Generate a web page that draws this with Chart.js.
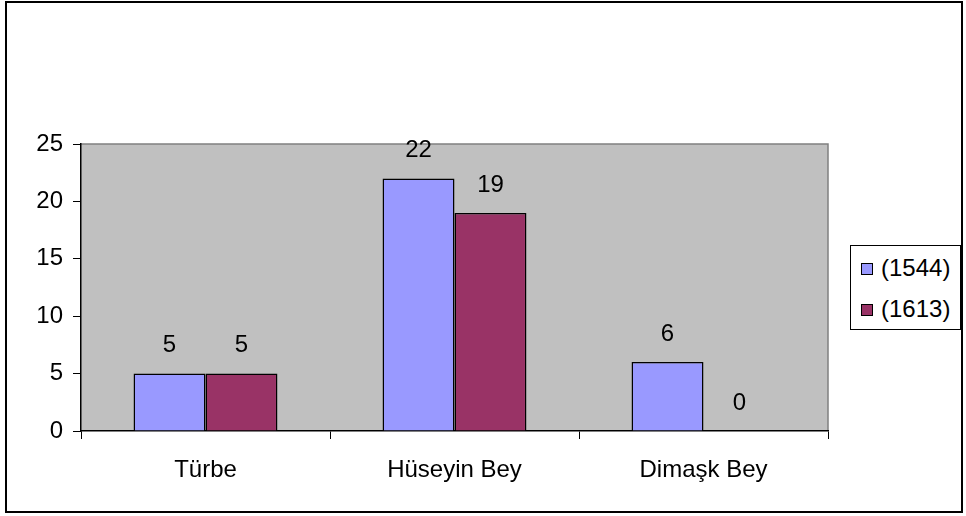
<!DOCTYPE html>
<html lang="tr">
<head>
    <meta charset="UTF-8">
    <title>Türbe / Hüseyin Bey / Dimaşk Bey</title>
    <script src="https://cdn.jsdelivr.net/npm/chart.js"></script>
    <style>
        * {
            margin: 0;
            padding: 0;
            box-sizing: border-box;
        }
        body {
            width: 966px;
            height: 516px;
            background: #fff;
            position: relative;
            overflow: hidden;
            font-family: 'Liberation Sans', Arial, sans-serif;
        }
        .frame {
            position: absolute;
            left: 5px;
            top: 1px;
            width: 958px;
            height: 512px;
            border: 2px solid #000;
        }
        .chart-box {
            position: absolute;
            left: 0;
            top: 0;
            width: 966px;
            height: 516px;
        }
        .legend {
            position: absolute;
            left: 850px;
            top: 245px;
            width: 111px;
            height: 85px;
            border: 1px solid #000;
            background: #fff;
            font-size: 24px;
            color: #000;
        }
        .legend-item {
            position: absolute;
            left: 10px;
            height: 28px;
            line-height: 28px;
            white-space: nowrap;
        }
        .legend-item span.sw {
            display: inline-block;
            width: 12px;
            height: 12px;
            border: 1px solid #000;
            margin-right: 8px;
            vertical-align: 1px;
        }
    </style>
</head>
<body>
    <div class="frame"></div>
    <div class="chart-box">
        <canvas id="barChart" width="966" height="516"></canvas>
    </div>
    <div class="legend" id="legend"></div>

    <script>
        // Данные графика
        const categories = ['Türbe', 'Hüseyin Bey', 'Dimaşk Bey'];
        const seriesNames = ['(1544)', '(1613)'];
        const values1544 = [5, 22, 6];
        const values1613 = [5, 19, 0];
        const yTicks = [0, 5, 10, 15, 20, 25];
        const colors = ['#9999FF', '#993366'];

        const FONT = '"Liberation Sans", Arial, sans-serif';

        // Серый фон и рамка области построения
        const plotBackground = {
            id: 'plotBackground',
            beforeDraw(chart) {
                const { ctx, chartArea: a } = chart;
                ctx.save();
                ctx.fillStyle = '#C0C0C0';
                ctx.fillRect(a.left, a.top, a.right - a.left, a.bottom - a.top);
                ctx.strokeStyle = '#808080';
                ctx.lineWidth = 1.5;
                ctx.beginPath();
                ctx.moveTo(a.left, a.top);
                ctx.lineTo(a.right, a.top);
                ctx.lineTo(a.right, a.bottom);
                ctx.stroke();
                ctx.restore();
            }
        };

        // Подписи значений над столбиками
        const valueLabels = {
            id: 'valueLabels',
            afterDatasetsDraw(chart) {
                const { ctx } = chart;
                ctx.save();
                ctx.font = '24px ' + FONT;
                ctx.fillStyle = '#000';
                ctx.textAlign = 'center';
                ctx.textBaseline = 'middle';
                chart.data.datasets.forEach((ds, i) => {
                    chart.getDatasetMeta(i).data.forEach((bar, j) => {
                        ctx.fillText(String(ds.data[j]), bar.x, bar.y - 28);
                    });
                });
                ctx.restore();
            }
        };

        const ctx = document.getElementById('barChart').getContext('2d');
        const chart = new Chart(ctx, {
            type: 'bar',
            data: {
                labels: categories,
                datasets: [
                    {
                        label: seriesNames[0],
                        data: values1544,
                        backgroundColor: colors[0],
                        borderColor: '#000',
                        borderWidth: 1.5,
                        barPercentage: 1,
                        categoryPercentage: 0.578
                    },
                    {
                        label: seriesNames[1],
                        data: values1613,
                        backgroundColor: colors[1],
                        borderColor: '#000',
                        borderWidth: 1.5,
                        barPercentage: 1,
                        categoryPercentage: 0.578
                    }
                ]
            },
            options: {
                responsive: false,
                animation: false,
                layout: {
                    padding: { left: 0, top: 144, right: 138, bottom: 0 }
                },
                plugins: {
                    legend: { display: false },
                    tooltip: { enabled: false }
                },
                scales: {
                    y: {
                        min: 0,
                        max: 25,
                        afterFit: s => { s.width = 81; },
                        afterBuildTicks: s => { s.ticks = yTicks.map(v => ({ value: v })); },
                        border: { color: '#000', width: 1.5 },
                        grid: {
                            drawOnChartArea: false,
                            drawTicks: true,
                            tickLength: 8,
                            color: '#000',
                            lineWidth: 1
                        },
                        ticks: {
                            color: '#000',
                            padding: 10,
                            font: { family: FONT, size: 24 }
                        }
                    },
                    x: {
                        afterFit: s => { s.height = 85; },
                        border: { color: '#000', width: 1.5 },
                        grid: {
                            offset: true,
                            drawOnChartArea: false,
                            drawTicks: true,
                            tickLength: 8,
                            color: '#000',
                            lineWidth: 1
                        },
                        ticks: {
                            color: '#000',
                            padding: 17,
                            maxRotation: 0,
                            font: { family: FONT, size: 24 }
                        }
                    }
                }
            },
            plugins: [plotBackground, valueLabels]
        });

        // Легенда справа
        const legend = document.getElementById('legend');
        seriesNames.forEach((name, i) => {
            const item = document.createElement('div');
            item.className = 'legend-item';
            item.style.top = (i === 0 ? 8 : 49) + 'px';
            item.innerHTML = '<span class="sw" style="background:' + colors[i] + '"></span>' + name;
            legend.appendChild(item);
        });
    </script>
</body>
</html>
